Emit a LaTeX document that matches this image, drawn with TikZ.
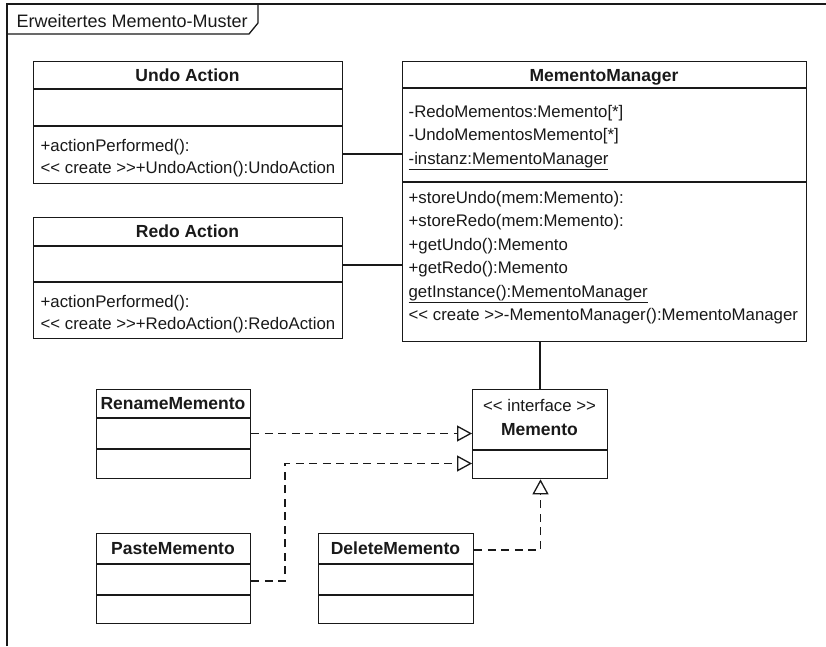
\documentclass[tikz,border=0pt]{standalone}
\usepackage{fontspec}
\setmainfont{Liberation Sans}
\usetikzlibrary{arrows.meta}
\newcommand\myll{<\kern0pt<}
\newcommand\mygg{>\kern0pt>}
\begin{document}
\begin{tikzpicture}[x=1pt,y=-1pt,
  line width=1.3pt, draw=black!90,
  box/.style={draw=black!90, rectangle, inner sep=0pt, anchor=north west},
  txt/.style={inner sep=0pt, anchor=base west, text=black!90, font=\fontsize{16.8}{20}\selectfont},
  ctxt/.style={inner sep=0pt, anchor=base, text=black!90, font=\fontsize{16.8}{20}\selectfont},
  bname/.style={inner sep=0pt, anchor=base, text=black!90, font=\fontsize{17.5}{20}\selectfont\bfseries},
  realize/.style={draw=black!90, dash pattern=on 8pt off 5.5pt, -{Triangle[open,length=15pt,width=16pt]}}
]
\useasboundingbox (0,0) rectangle (826,646);
\fill[white] (0,0) rectangle (826,646);

% frame
\draw (7,646) -- (7,4) -- (826,4);
\draw (7,34) -- (249,34) -- (258,23) -- (258,4);
\node[inner sep=0pt, anchor=base west, text=black!90, font=\fontsize{18}{20}\selectfont] (title) at (16,27) {Erweitertes Memento-Muster};

% Undo Action
\node[box, minimum width=309, minimum height=122] (undo) at (33,61) {};
\draw (undo.west |- 0,89) -- (undo.east |- 0,89);
\draw (undo.west |- 0,126) -- (undo.east |- 0,126);
\node[bname] (undoN) at (187.5,81) {Undo Action};
\node[txt] (undoM1) at (40,151) {+actionPerformed():};
\node[txt] (undoM2) at (40,173.5) {\myll{} create \mygg+UndoAction():UndoAction};

% Redo Action
\node[box, minimum width=309, minimum height=121] (redo) at (33,217) {};
\draw (redo.west |- 0,246) -- (redo.east |- 0,246);
\draw (redo.west |- 0,282) -- (redo.east |- 0,282);
\node[bname] (redoN) at (187.5,237) {Redo Action};
\node[txt] (redoM1) at (40,307) {+actionPerformed():};
\node[txt] (redoM2) at (40,329.5) {\myll{} create \mygg+RedoAction():RedoAction};

% MementoManager
\node[box, minimum width=404, minimum height=280] (mm) at (402,61) {};
\draw (mm.west |- 0,88) -- (mm.east |- 0,88);
\draw (mm.west |- 0,182) -- (mm.east |- 0,182);
\node[bname] (mmN) at (604,81) {MementoManager};
\node[txt] (mmA1) at (408,117) {-RedoMementos:Memento[*]};
\node[txt] (mmA2) at (408,140.5) {-UndoMementosMemento[*]};
\node[txt] (mmA3) at (408,164) {\underline{-instanz:MementoManager}};
\node[txt] (mmM1) at (408,203) {+storeUndo(mem:Memento):};
\node[txt] (mmM2) at (408,226.5) {+storeRedo(mem:Memento):};
\node[txt] (mmM3) at (408,250) {+getUndo():Memento};
\node[txt] (mmM4) at (408,273.5) {+getRedo():Memento};
\node[txt] (mmM5) at (408,297) {\underline{getInstance():MementoManager}};
\node[txt] (mmM6) at (408,320.5) {\myll{} create \mygg-MementoManager():MementoManager};

% Memento interface
\node[box, minimum width=135, minimum height=89] (mem) at (472,389) {};
\draw (mem.west |- 0,450) -- (mem.east |- 0,450);
\node[ctxt] (memS) at (539.5,411) {\myll{} interface \mygg};
\node[bname] (memN) at (539.5,435) {Memento};

% RenameMemento
\node[box, minimum width=154, minimum height=89] (ren) at (96,389) {};
\draw (ren.west |- 0,418) -- (ren.east |- 0,418);
\draw (ren.west |- 0,449) -- (ren.east |- 0,449);
\node[bname] (renN) at (173,409.5) {RenameMemento};

% PasteMemento
\node[box, minimum width=154, minimum height=90] (paste) at (96,533) {};
\draw (paste.west |- 0,564) -- (paste.east |- 0,564);
\draw (paste.west |- 0,595) -- (paste.east |- 0,595);
\node[bname] (pasteN) at (173,554.5) {PasteMemento};

% DeleteMemento
\node[box, minimum width=155, minimum height=90] (del) at (318,533) {};
\draw (del.west |- 0,564) -- (del.east |- 0,564);
\draw (del.west |- 0,595) -- (del.east |- 0,595);
\node[bname] (delN) at (395.5,554.5) {DeleteMemento};

% associations
\draw (undo.east |- 0,154) -- (mm.west |- 0,154);
\draw (redo.east |- 0,265) -- (mm.west |- 0,265);
\draw (mm.south -| 540,0) -- (mem.north -| 540,0);

% realizations
\coordinate (pb) at (285,581);
\coordinate (db) at (540.5,550);
\draw[realize] (ren.east |- 0,433.5) -- (mem.west |- 0,433.5);
\draw[realize] (paste.east |- pb) -- (pb) -- (285,463.5) -- (mem.west |- 0,463.5);
\draw[realize] (del.east |- db) -- (db) -- (mem.south -| db);
\end{tikzpicture}
\end{document}
